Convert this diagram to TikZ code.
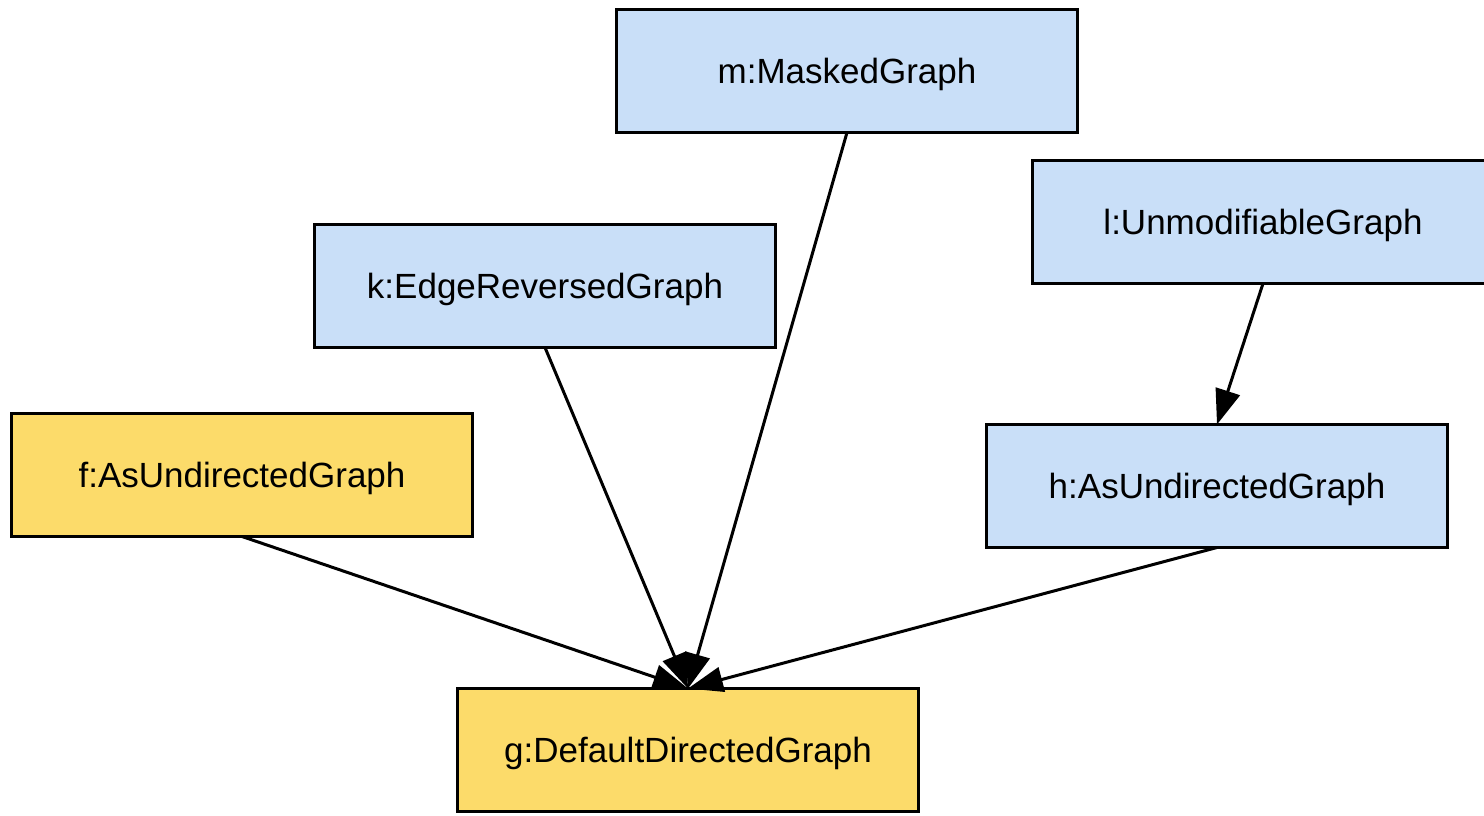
\documentclass[tikz,border=0pt]{standalone}
\usepackage{fontspec}
\setmainfont{Liberation Sans}
\usetikzlibrary{arrows.meta}
\definecolor{objblue}{HTML}{C9DFF8}
\definecolor{objyellow}{HTML}{FCDB6A}
\begin{document}
\begin{tikzpicture}[x=1pt,y=-1pt,
  obj/.style={draw=black, line width=3pt, minimum width=461pt, minimum height=123pt,
    inner sep=0pt, outer sep=0pt, text height=25pt, text depth=0pt,
    font=\fontsize{35}{40}\selectfont},
  blueobj/.style={obj, fill=objblue},
  yellowobj/.style={obj, fill=objyellow},
  link/.style={line width=3pt, -{Triangle[length=35pt,width=25pt]}}]
  \useasboundingbox (0,0) rectangle (1484,815);
  \node[blueobj] (m) at (847,71) {m:MaskedGraph};
  \node[blueobj] (k) at (545,286) {k:EdgeReversedGraph};
  \node[blueobj] (l) at (1263,222) {l:UnmodifiableGraph};
  \node[yellowobj] (f) at (242,475) {f:AsUndirectedGraph};
  \node[blueobj] (h) at (1217,486) {h:AsUndirectedGraph};
  \node[yellowobj] (g) at (688,750) {g:DefaultDirectedGraph};
  \draw[link] (l.south) -- (h.north);
  \draw[link] (f.south) -- (g.north);
  \draw[link] (k.south) -- (g.north);
  \draw[link] (m.south) -- (g.north);
  \draw[link] (h.south) -- (g.north);
\end{tikzpicture}
\end{document}
